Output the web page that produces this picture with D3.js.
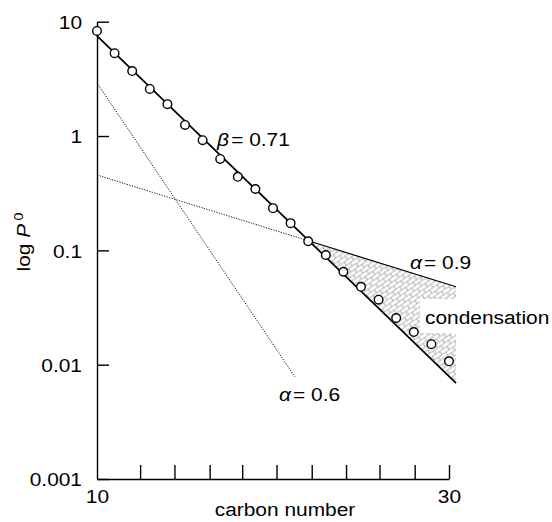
<!DOCTYPE html>
<html lang="en">
<head>
<meta charset="UTF-8">
<title>Vapour pressure vs carbon number</title>
<script src="https://d3js.org/d3.v7.min.js"></script>
<style>
    body { margin: 0; padding: 0; background: #fff; overflow: hidden; }
    svg text { font-family: "Liberation Sans", Arial, sans-serif; font-size: 19px; fill: #000; }
</style>
</head>
<body>
<div id="chart"></div>
<script>
// measured points (open circles)
const carbon = [10, 11, 12, 13, 14, 15, 16, 17, 18, 19, 20, 21, 22, 23, 24, 25, 26, 27, 28, 29, 30];
const pressure = [8.3, 5.3, 3.7, 2.58, 1.9, 1.25, 0.92, 0.63, 0.44, 0.344, 0.234, 0.173, 0.12,
                  0.091, 0.065, 0.048, 0.037, 0.0256, 0.0193, 0.0151, 0.0107];

// straight lines, [carbon, P0] at each end
const betaLine = [[10, 7.5], [30.4, 0.0069]];      // beta = 0.71
const alpha09Line = [[10, 0.456], [30.4, 0.048]];  // alpha = 0.9
const alpha06Line = [[10, 2.91], [21.25, 0.0078]]; // alpha = 0.6

const yTicks = [10, 1, 0.1, 0.01, 0.001];
const yTickLabels = ["10", "1", "0.1", "0.01", "0.001"];
const xTicks = [12.45, 14.4, 16.4, 18.25, 20.2, 22.2, 24.15, 26.05, 28.05, 30];
const xLabelTicks = [10, 30];

const width = 552, height = 522;
const SX = 1.1; // the scanned type is a bit wider than Liberation Sans

const svg = d3.select("#chart").append("svg")
    .attr("width", width)
    .attr("height", height);

const x = d3.scaleLinear().domain([10, 30]).range([97, 449]);
const y = d3.scaleLog().domain([0.001, 10]).range([479, 21.7]);

// hatch for the condensation area
const defs = svg.append("defs");
const pat = defs.append("pattern")
    .attr("id", "brick")
    .attr("patternUnits", "userSpaceOnUse")
    .attr("width", 9).attr("height", 8)
    .attr("patternTransform", "rotate(-35)");
pat.append("path")
    .attr("d", "M0,0H9M0,4H9M0,8H9M1,0V4M5.5,4V8")
    .attr("fill", "none")
    .attr("stroke", "#9a9a9a")
    .attr("stroke-width", 0.75);

// helpers working in log space
function logAt(line, n) {
    const [a, b] = line;
    const la = Math.log10(a[1]), lb = Math.log10(b[1]);
    return la + (n - a[0]) * (lb - la) / (b[0] - a[0]);
}
function slope(line) {
    return (Math.log10(line[1][1]) - Math.log10(line[0][1])) / (line[1][0] - line[0][0]);
}
const nCross = 10 + (Math.log10(alpha09Line[0][1]) - Math.log10(betaLine[0][1])) /
    (slope(betaLine) - slope(alpha09Line));
const pCross = Math.pow(10, logAt(betaLine, nCross));
const nEnd = betaLine[1][0];

const line = d3.line().x(d => x(d[0])).y(d => y(d[1]));

svg.append("path")
    .datum([[nCross, pCross], alpha09Line[1], betaLine[1]])
    .attr("d", d => line(d) + "Z")
    .attr("fill", "url(#brick)");

// white box behind the label
svg.append("rect")
    .attr("x", 420).attr("y", 299)
    .attr("width", 132).attr("height", 34)
    .attr("fill", "#fff");

// dotted guide lines
svg.append("path")
    .datum(alpha06Line)
    .attr("d", line)
    .attr("fill", "none")
    .attr("stroke", "#222")
    .attr("stroke-width", 1)
    .attr("stroke-dasharray", "1.3,1.3");

svg.append("path")
    .datum([alpha09Line[0], [nCross, pCross]])
    .attr("d", line)
    .attr("fill", "none")
    .attr("stroke", "#222")
    .attr("stroke-width", 1)
    .attr("stroke-dasharray", "1.3,1.3");

svg.append("path")
    .datum([[nCross, pCross], [nEnd, Math.pow(10, logAt(alpha09Line, nEnd))]])
    .attr("d", line)
    .attr("fill", "none")
    .attr("stroke", "#000")
    .attr("stroke-width", 1.2);

// beta line
svg.append("path")
    .datum(betaLine)
    .attr("d", line)
    .attr("fill", "none")
    .attr("stroke", "#000")
    .attr("stroke-width", 1.7);

// axes
const yAxis = d3.axisLeft(y)
    .tickValues(yTicks)
    .tickSize(-12)
    .tickSizeOuter(0)
    .tickPadding(15)
    .tickFormat((d, i) => yTickLabels[i]);

const gy = svg.append("g")
    .attr("transform", `translate(${x(10)},0)`)
    .call(yAxis);

const xAxis = d3.axisBottom(x)
    .tickValues(xTicks)
    .tickSize(-14)
    .tickSizeOuter(0)
    .tickFormat("");

const gx = svg.append("g")
    .attr("transform", `translate(0,${y(0.001)})`)
    .call(xAxis);

const gxl = svg.append("g")
    .attr("transform", `translate(0,${y(0.001)})`)
    .call(d3.axisBottom(x).tickValues(xLabelTicks).tickSize(0).tickPadding(11).tickFormat(d3.format("d")));
gxl.select(".domain").remove();

[gx, gy].forEach(g => {
    g.selectAll("path, line").attr("stroke", "#000").attr("stroke-width", 1.4);
});
svg.selectAll(".tick text")
    .attr("font-family", null)
    .attr("font-size", null);
gy.selectAll(".tick text")
    .attr("x", -15 / SX)
    .attr("dy", "0.36em")
    .attr("transform", `scale(${SX},1)`);
gxl.selectAll(".tick text")
    .attr("transform", `scale(${SX},1)`);

// data circles
svg.selectAll(".dot")
    .data(carbon)
    .enter().append("circle")
    .attr("class", "dot")
    .attr("cx", d => x(d))
    .attr("cy", (d, i) => y(pressure[i]))
    .attr("r", 4.3)
    .attr("fill", "#fff")
    .attr("stroke", "#000")
    .attr("stroke-width", 1.4);

// labels
function label(px, py, parts, anchor, rot) {
    const t = svg.append("text")
        .attr("transform", `translate(${px},${py})${rot ? ` rotate(${rot})` : ""} scale(${SX},1)`)
        .attr("text-anchor", anchor || "start");
    parts.forEach(p => {
        const s = t.append("tspan").text(p.t);
        if (p.it) s.attr("font-style", "italic");
        if (p.dx) s.attr("dx", p.dx);
        if (p.dy) s.attr("dy", p.dy);
        if (p.fs) s.style("font-size", p.fs + "px");
    });
    return t;
}

label(217, 146, [{ t: "\u03b2", it: true }, { t: "= 0.71", dx: 2 }]);
label(410, 269, [{ t: "\u03b1", it: true }, { t: "= 0.9", dx: 2 }]);
label(279, 401, [{ t: "\u03b1", it: true }, { t: "= 0.6", dx: 2 }]);
label(425, 324, [{ t: "condensation" }]);
label(285, 516, [{ t: "carbon number" }], "middle");
label(30, 242, [{ t: "log " }, { t: "P", it: true }, { t: "0", dx: 3, dy: -7, fs: 13 }], "middle", -90);
</script>
</body>
</html>
